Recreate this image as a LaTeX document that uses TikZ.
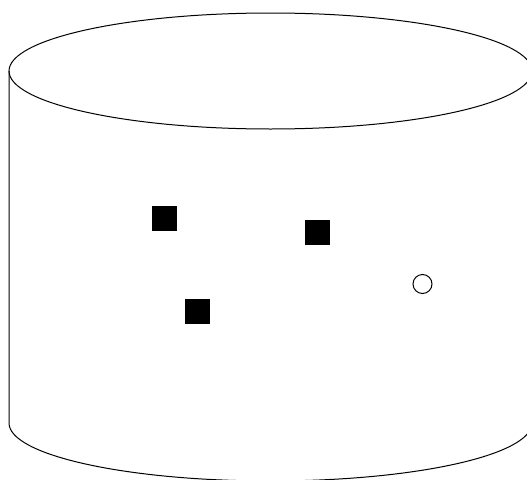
\documentclass[tikz,border=0pt]{standalone}
\begin{document}
\begin{tikzpicture}[x=1pt,y=-1pt,line width=1pt,
  block/.style={fill=black,draw=none,minimum size=25pt,inner sep=0pt,outer sep=0pt,rectangle},
  ring/.style={draw=black,fill=white,circle,minimum size=19pt,inner sep=0pt,line width=1pt}]
\useasboundingbox (0,0) rectangle (527,479);
% cylinder
\draw[fill=white] (9,71) -- (9,423) arc[start angle=180,end angle=0,x radius=261.5,y radius=58] -- (532,71);
\draw (270.5,71) ellipse[x radius=261.5,y radius=58];
% contents
\node[block] (s1) at (164.5,218.5) {};
\node[block] (s2) at (317.5,232.5) {};
\node[block] (s3) at (197.5,311) {};
\node[ring] (c1) at (422.5,284) {};
\end{tikzpicture}
\end{document}
